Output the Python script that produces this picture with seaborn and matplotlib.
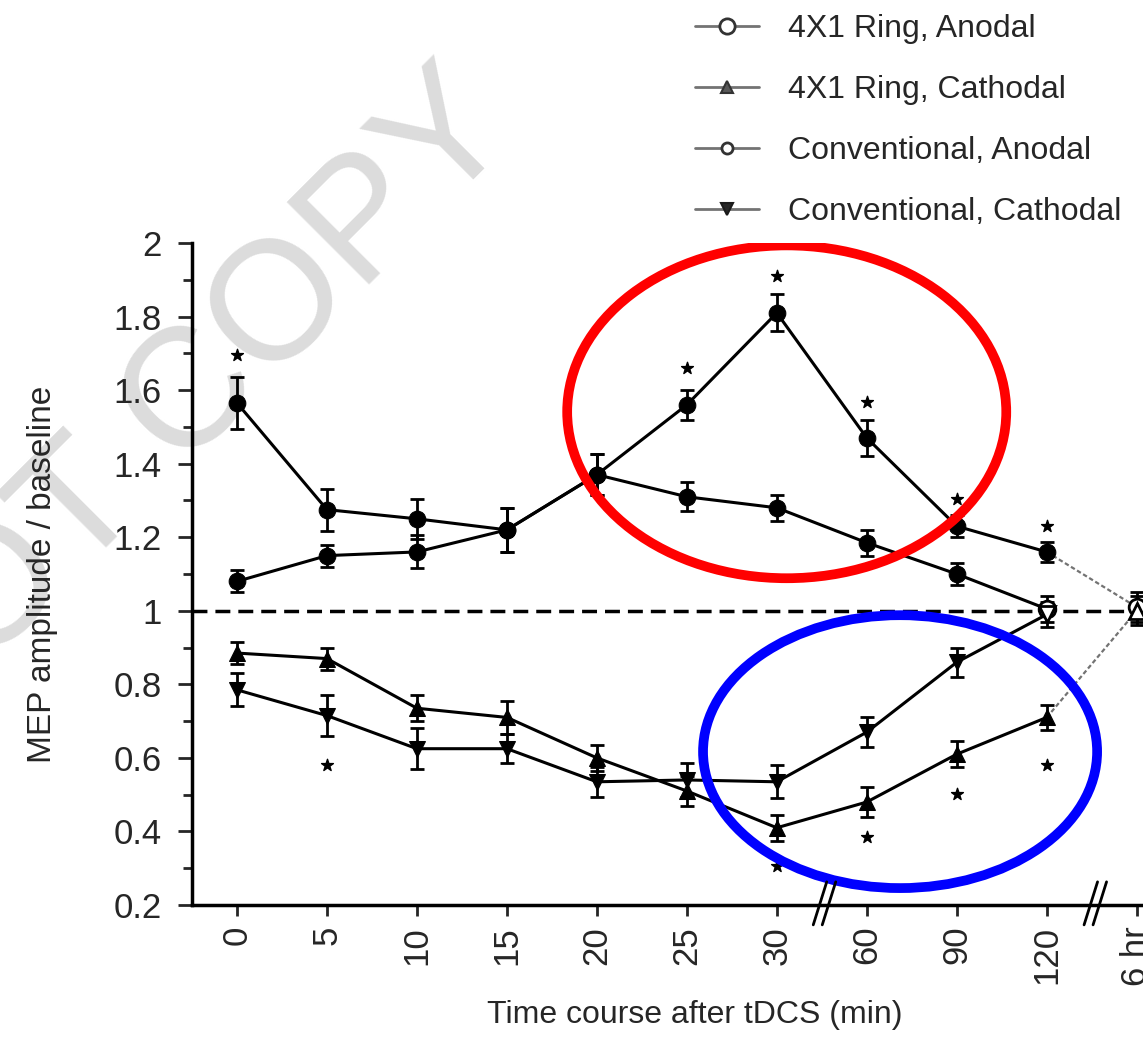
"""
MEP amplitude / baseline after tDCS: 4X1 ring vs conventional montage, anodal and cathodal.
"""

import numpy as np
import pandas as pd
import matplotlib
matplotlib.use('Agg')
import matplotlib.pyplot as plt
from matplotlib.patches import Ellipse
from matplotlib.lines import Line2D
import seaborn as sns

nan = np.nan

# x categories (equally spaced, axis is broken after 30 and after 120)
time_labels = ['0', '5', '10', '15', '20', '25', '30', '60', '90', '120', '6 hr']

# mean values
ring_anodal = [1.08, 1.15, 1.16, 1.22, 1.37, 1.56, 1.81, 1.47, 1.23, 1.16, 1.01]
ring_cathodal = [0.885, 0.87, 0.735, 0.71, 0.60, 0.51, 0.41, 0.48, 0.61, 0.71, 1.00]
conv_anodal = [1.565, 1.275, 1.25, 1.22, 1.37, 1.31, 1.28, 1.185, 1.10, 1.005, nan]
conv_cathodal = [0.785, 0.715, 0.625, 0.625, 0.535, 0.54, 0.535, 0.67, 0.86, 0.99, nan]

# standard errors
ring_anodal_sem = [0.03, 0.03, 0.045, 0.06, 0.055, 0.04, 0.05, 0.05, 0.03, 0.027, 0.04]
ring_cathodal_sem = [0.03, 0.03, 0.035, 0.045, 0.035, 0.04, 0.035, 0.04, 0.035, 0.035, 0.04]
conv_anodal_sem = [0.07, 0.057, 0.055, 0.06, 0.055, 0.04, 0.035, 0.035, 0.03, 0.035, nan]
conv_cathodal_sem = [0.045, 0.055, 0.055, 0.04, 0.04, 0.045, 0.045, 0.04, 0.04, 0.035, nan]

series_names = ['4X1 Ring, Anodal', '4X1 Ring, Cathodal', 'Conventional, Anodal', 'Conventional, Cathodal']
series_means = [ring_anodal, ring_cathodal, conv_anodal, conv_cathodal]
series_sems = [ring_anodal_sem, ring_cathodal_sem, conv_anodal_sem, conv_cathodal_sem]
series_markers = ['o', '^', 'o', 'v']

# significance asterisks (x index, y value)
star_x = [0, 5, 6, 7, 8, 9, 1, 6, 7, 8, 9]
star_y = [1.696, 1.66, 1.91, 1.569, 1.304, 1.231, 0.581, 0.305, 0.385, 0.502, 0.581]

# build long dataframe
rows = []
for name, means, sems in zip(series_names, series_means, series_sems):
    for i, (m, s) in enumerate(zip(means, sems)):
        rows.append({'series': name, 'idx': i, 'value': m, 'sem': s})
data = pd.DataFrame(rows)
main = data[data['idx'] <= 9]                                   # 0 - 120 min
late = data[(data['idx'] >= 9) & data['series'].str.startswith('4X1')]   # 120 min -> 6 hr

# plotting
sns.set_style('ticks')
plt.rcParams['font.family'] = ['Liberation Sans', 'DejaVu Sans']

f = plt.figure(figsize=(11.43, 10.58), dpi=100)
ax = f.add_axes([192 / 1143, 1 - 905 / 1058, 951 / 1143, 662 / 1058])
ax.set_facecolor('none')

# reference line at baseline
ax.axhline(1, color='black', lw=2.5, ls=(0, (4.3, 2.3)), zorder=1)

sns.lineplot(data=main, x='idx', y='value', hue='series', style='series',
             markers=dict(zip(series_names, series_markers)), dashes=False,
             palette=dict(zip(series_names, ['black'] * 4)),
             markersize=12, markeredgecolor='black', linewidth=2.2,
             errorbar=None, legend=False, ax=ax, zorder=3)
sns.lineplot(data=late, x='idx', y='value', hue='series',
             palette=dict(zip(series_names[:2], ['0.45'] * 2)),
             linewidth=1.6, linestyle=(0, (2, 1.2)), errorbar=None,
             legend=False, ax=ax, zorder=2)

for name, means, sems in zip(series_names, series_means, series_sems):
    ax.errorbar(range(len(means)), means, yerr=sems, fmt='none', ecolor='black',
                elinewidth=2, capsize=5, capthick=2, zorder=4)

# open markers at the end points (120 min conventional, 6 hr ring)
for name, means, mk in zip(series_names, series_means, series_markers):
    end = 9 if name.startswith('Conv') else 10
    ax.plot(end, means[end], marker=mk, ms=12, mfc='white', mec='black', mew=2,
            ls='none', zorder=5, clip_on=False)

# asterisks
ax.scatter(star_x, star_y, marker='*', s=80, color='black', zorder=5)

# highlighted regions
ax.add_patch(Ellipse((6.11, 1.541), 4.88, 0.905, fill=False, ec='#ff0000', lw=7, zorder=6))
ax.add_patch(Ellipse((7.37, 0.617), 4.38, 0.742, fill=False, ec='#0000ff', lw=7, zorder=6))

# axis breaks
for bx in [6.53, 9.54]:
    for off in [-0.05, 0.05]:
        ax.plot([bx + off - 0.075, bx + off + 0.075], [-0.03, 0.035], color='black', lw=2,
                transform=ax.get_xaxis_transform(), clip_on=False, zorder=7)

# axes styling
ax.set_xlim(-0.5, 10.07)
ax.set_ylim(0.2, 2.0)
ax.set_xticks(range(len(time_labels)))
ax.set_xticklabels(time_labels, rotation=90, fontsize=25)
ax.set_yticks(np.arange(0.2, 2.01, 0.2))
ax.set_yticklabels(['0.2', '0.4', '0.6', '0.8', '1', '1.2', '1.4', '1.6', '1.8', '2'], fontsize=25)
ax.set_yticks(np.arange(0.3, 2.0, 0.2), minor=True)
ax.tick_params(axis='y', which='major', length=10, width=2, pad=12)
ax.tick_params(axis='y', which='minor', length=6.5, width=2)
ax.tick_params(axis='x', which='major', length=8, width=2, pad=7)
sns.despine(ax=ax)
for side in ['left', 'bottom']:
    ax.spines[side].set_linewidth(2.5)
    ax.spines[side].set_color('black')

ax.set_xlabel('Time course after tDCS (min)', fontsize=23)
ax.set_ylabel('MEP amplitude / baseline', fontsize=24)
ax.xaxis.set_label_coords(0.529, -0.143)
ax.yaxis.set_label_coords(-0.141, 0.5)

# legend
handles = [
    Line2D([], [], color='0.45', lw=2, marker='o', ms=11, mfc='white', mec='0.2', mew=2),
    Line2D([], [], color='0.45', lw=2, marker='^', ms=9, mfc='0.35', mec='0.2', mew=1.5),
    Line2D([], [], color='0.45', lw=2, marker='o', ms=8, mfc='white', mec='0.2', mew=2),
    Line2D([], [], color='0.45', lw=2, marker='v', ms=9, mfc='0.15', mec='0.1', mew=1.5),
]
f.legend(handles, series_names, loc='upper left', bbox_to_anchor=(695 / 1143, 1 - 14 / 1058),
         frameon=False, fontsize=23, handlelength=2.0, handletextpad=0.9,
         labelspacing=0.97, borderpad=0, borderaxespad=0)

# watermark
f.text(-0.278, 0.0822, 'DO NOT COPY', rotation=45, rotation_mode='anchor', ha='left',
       va='baseline', fontsize=122, color='#dcdcdc', zorder=-1)

f.savefig('out.png', dpi=100)
